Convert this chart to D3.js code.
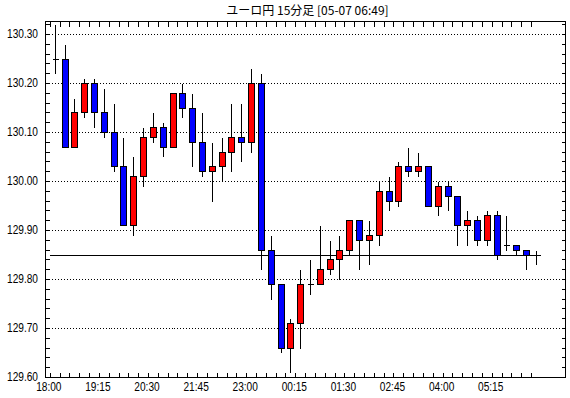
<!DOCTYPE html>
<html>
<head>
<meta charset="utf-8">
<script src="https://cdn.jsdelivr.net/npm/d3@7"></script>
<style>
  body { margin: 0; background: #fff; }
  svg { display: block; }
</style>
</head>
<body>
<div id="chart"></div>
<script>
// 15 minute candles, EUR/JPY
const times = ['18:00','18:15','18:30','18:45','19:00','19:15','19:30','19:45','20:00','20:15',
  '20:30','20:45','21:00','21:15','21:30','21:45','22:00','22:15','22:30','22:45',
  '23:00','23:15','23:30','23:45','00:00','00:15','00:30','00:45','01:00','01:15',
  '01:30','01:45','02:00','02:15','02:30','02:45','03:00','03:15','03:30','03:45',
  '04:00','04:15','04:30','04:45','05:00','05:15','05:30','05:45','06:00','06:15'];
const opens = [130.25,130.25,130.07,130.14,130.20,130.14,130.10,130.03,129.91,130.01,
  130.09,130.11,130.07,130.18,130.15,130.08,130.02,130.03,130.06,130.09,
  130.08,130.20,129.86,129.79,129.66,129.71,129.79,129.79,129.82,129.84,
  129.86,129.92,129.88,129.89,129.98,129.96,130.03,130.02,130.03,129.95,
  129.99,129.97,129.91,129.92,129.88,129.93,129.87,129.87,129.86,129.85];
const highs = [130.32,130.28,130.17,130.21,130.21,130.19,130.16,130.09,130.05,130.11,
  130.14,130.12,130.18,130.20,130.18,130.14,130.08,130.09,130.16,130.16,
  130.23,130.22,129.89,129.79,129.72,129.82,129.84,129.91,129.88,129.89,
  129.92,129.92,129.92,130.00,130.01,130.04,130.07,130.06,130.03,130.00,
  130.00,129.97,129.94,129.93,129.94,129.94,129.93,129.87,129.86,129.86];
const lows = [130.22,130.07,130.07,130.13,130.11,130.09,130.02,129.91,129.89,129.99,
  130.08,130.05,130.07,130.13,130.03,130.01,129.96,130.00,130.02,130.04,
  130.06,129.82,129.76,129.65,129.61,129.66,129.77,129.79,129.81,129.80,
  129.85,129.82,129.83,129.87,129.94,129.95,130.01,130.01,129.95,129.93,
  129.94,129.87,129.87,129.87,129.87,129.84,129.86,129.85,129.82,129.83];
const closes = [130.25,130.07,130.14,130.20,130.14,130.10,130.03,129.91,130.01,130.09,
  130.11,130.07,130.18,130.15,130.08,130.02,130.03,130.06,130.09,130.08,
  130.20,129.86,129.79,129.66,129.71,129.79,129.79,129.82,129.84,129.86,
  129.92,129.88,129.89,129.98,129.96,130.03,130.02,130.03,129.95,129.99,
  129.97,129.91,129.92,129.88,129.93,129.85,129.87,129.86,129.85,129.85];

const yTicks = [129.60,129.70,129.80,129.90,130.00,130.10,130.20,130.30];
const xLabels = ['18:00','19:15','20:30','21:45','23:00','00:15','01:30','02:45','04:00','05:15'];
const title = 'ユーロ円 15分足 [05-07 06:49]';

const W = 570, H = 398;
const plotL = 45.5, plotR = 565.5, plotT = 21.5, plotB = 377.5;

const svg = d3.select('#chart').append('svg')
    .attr('width', W)
    .attr('height', H);

const x = d3.scaleBand()
    .domain(times)
    .range([49.8, 540.8])
    .paddingInner(0)
    .paddingOuter(0);

const y = d3.scaleLinear()
    .domain([129.60, 130.30])
    .range([377, 34]);

const candles = times.map((t, i) => ({ t, o: opens[i], h: highs[i], l: lows[i], c: closes[i] }));
const cx = d => Math.round(x(d.t) + x.bandwidth() / 2) + 0.5;
const py = v => Math.round(y(v)) + 0.5;

// title
svg.append('text')
    .attr('x', (plotL + plotR) / 2 + 2)
    .attr('y', 15)
    .attr('text-anchor', 'middle')
    .attr('font-family', '"Noto Sans CJK JP", sans-serif')
    .attr('font-size', 12)
    .text(title);

// dotted grid
svg.append('g')
    .attr('shape-rendering', 'crispEdges')
    .selectAll('line')
    .data(yTicks.slice(1))
    .enter()
    .append('line')
    .attr('x1', plotL)
    .attr('x2', plotR)
    .attr('y1', d => py(d))
    .attr('y2', d => py(d))
    .attr('stroke', '#000')
    .attr('stroke-dasharray', '1,2');

// minor ticks on left / right
const minor = d3.range(0, 37).map(k => 129.60 + k * 0.02);
const tickG = svg.append('g').attr('stroke', '#000').attr('shape-rendering', 'crispEdges');
minor.forEach(v => {
    tickG.append('line').attr('x1', plotL).attr('x2', plotL + 4).attr('y1', py(v)).attr('y2', py(v));
    tickG.append('line').attr('x1', plotR - 4).attr('x2', plotR).attr('y1', py(v)).attr('y2', py(v));
});
// ticks on top / bottom, one per candle
times.forEach(t => {
    const tx = Math.round(x(t)) + 0.5;
    tickG.append('line').attr('x1', tx).attr('x2', tx).attr('y1', plotT).attr('y2', plotT + 5);
    tickG.append('line').attr('x1', tx).attr('x2', tx).attr('y1', plotB - 5).attr('y2', plotB);
});

// last price line
const last = closes[closes.length - 1];
svg.append('line')
    .attr('x1', x.range()[0])
    .attr('x2', x.range()[1])
    .attr('y1', py(last))
    .attr('y2', py(last))
    .attr('stroke', '#000')
    .attr('shape-rendering', 'crispEdges');

// candles
const cg = svg.append('g').attr('shape-rendering', 'crispEdges');
const c = cg.selectAll('g.c')
    .data(candles)
    .enter()
    .append('g')
    .attr('class', 'c');

c.append('line')
    .attr('x1', cx).attr('x2', cx)
    .attr('y1', d => py(d.h))
    .attr('y2', d => py(d.l))
    .attr('stroke', '#000');

c.filter(d => d.o !== d.c)
    .append('rect')
    .attr('x', d => cx(d) - 3)
    .attr('width', 6)
    .attr('y', d => py(Math.max(d.o, d.c)))
    .attr('height', d => py(Math.min(d.o, d.c)) - py(Math.max(d.o, d.c)))
    .attr('fill', d => d.c > d.o ? '#ff0000' : '#0000ff')
    .attr('stroke', '#000');

c.filter(d => d.o === d.c)
    .append('line')
    .attr('x1', d => cx(d) - 3)
    .attr('x2', d => cx(d) + 3)
    .attr('y1', d => py(d.o))
    .attr('y2', d => py(d.o))
    .attr('stroke', '#000');

// frame
svg.append('rect')
    .attr('x', plotL)
    .attr('y', plotT)
    .attr('width', plotR - plotL)
    .attr('height', plotB - plotT)
    .attr('fill', 'none')
    .attr('stroke', '#000')
    .attr('shape-rendering', 'crispEdges');

// y labels
svg.append('g')
    .selectAll('text')
    .data(yTicks)
    .enter()
    .append('text')
    .attr('transform', d => `translate(38,${y(d) + 4}) scale(0.78,1)`)
    .attr('text-anchor', 'end')
    .attr('font-family', '"Liberation Sans", Arial, sans-serif')
    .attr('font-size', 13)
    .text(d => d.toFixed(2));

// x labels
svg.append('g')
    .selectAll('text')
    .data(xLabels)
    .enter()
    .append('text')
    .attr('transform', d => `translate(${x(d) - 1},391) scale(0.78,1)`)
    .attr('text-anchor', 'middle')
    .attr('font-family', '"Liberation Sans", Arial, sans-serif')
    .attr('font-size', 13)
    .text(d => d);
</script>
</body>
</html>
